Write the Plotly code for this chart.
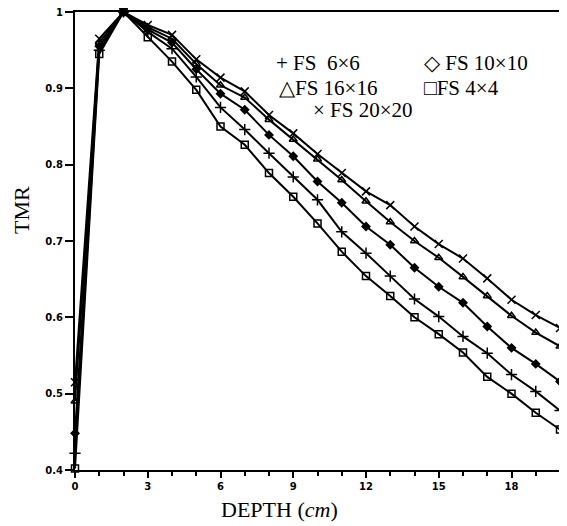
import plotly.graph_objects as go

depth = list(range(0, 21))

tmr_fs20 = [0.515, 0.965, 1.0, 0.983, 0.970, 0.938, 0.914, 0.896, 0.865, 0.841, 0.814,
            0.789, 0.765, 0.747, 0.719, 0.696, 0.677, 0.651, 0.623, 0.603, 0.586]
tmr_fs16 = [0.490, 0.960, 1.0, 0.980, 0.965, 0.932, 0.904, 0.888, 0.859, 0.833, 0.807,
            0.780, 0.752, 0.725, 0.700, 0.678, 0.653, 0.628, 0.602, 0.580, 0.562]
tmr_fs10 = [0.448, 0.955, 1.0, 0.977, 0.960, 0.925, 0.893, 0.872, 0.839, 0.811, 0.778,
            0.750, 0.719, 0.695, 0.665, 0.640, 0.619, 0.588, 0.560, 0.539, 0.516]
tmr_fs6 = [0.422, 0.950, 1.0, 0.974, 0.952, 0.915, 0.875, 0.846, 0.815, 0.784, 0.754,
           0.712, 0.684, 0.654, 0.624, 0.601, 0.575, 0.553, 0.525, 0.503, 0.478]
tmr_fs4 = [0.402, 0.945, 1.0, 0.967, 0.935, 0.898, 0.850, 0.826, 0.789, 0.758, 0.723,
           0.686, 0.654, 0.628, 0.600, 0.578, 0.554, 0.522, 0.500, 0.475, 0.453]

x_tickvals = [0, 3, 6, 9, 12, 15, 18]
y_tickvals = [0.4, 0.5, 0.6, 0.7, 0.8, 0.9, 1.0]
y_ticktext = ["0.4", "0.5", "0.6", "0.7", "0.8", "0.9", "1"]

series = [
    ("FS 20×20", tmr_fs20, "x-thin-open", 8),
    ("FS 16×16", tmr_fs16, "triangle-up-open", 7),
    ("FS 10×10", tmr_fs10, "diamond", 6),
    ("FS 6×6", tmr_fs6, "cross-thin-open", 8),
    ("FS 4×4", tmr_fs4, "square-open", 7),
]

fig = go.Figure()
for name, vals, sym, sz in series:
    fig.add_trace(go.Scatter(
        x=depth, y=vals, mode="lines+markers", name=name,
        line=dict(color="black", width=2),
        marker=dict(symbol=sym, size=sz, color="black",
                    line=dict(color="black", width=1.5)),
        cliponaxis=False, showlegend=False,
    ))

tick_font = dict(family="DejaVu Sans", size=10, color="black", weight=700)

fig.update_xaxes(
    range=[0, 20], tickvals=x_tickvals, ticks="outside", ticklen=6, tickwidth=2,
    tickcolor="black", minor=dict(dtick=1, tick0=0, ticks="outside", ticklen=4,
                                  tickwidth=2, tickcolor="black"),
    showline=True, linewidth=2, linecolor="black", mirror=True,
    showgrid=False, zeroline=False, tickfont=tick_font, automargin=False,
    ticklabeloverflow="allow",
)
fig.update_yaxes(
    range=[0.4, 1.0], tickvals=y_tickvals, ticktext=y_ticktext, ticks="outside",
    ticklen=8, tickwidth=2, tickcolor="black",
    showline=True, linewidth=2, linecolor="black", mirror=True,
    showgrid=False, zeroline=False, tickfont=tick_font, automargin=False,
    ticklabeloverflow="allow",
)

# page has an 8px body margin; plot area targeted at x 75..560, y 12..470
OFF = 8
PL, PR, PT, PB = 75, 560, 12, 470
PW, PH = PR - PL, PB - PT
W, H = 559, 518

serif = dict(family="Liberation Serif", size=21, color="black")
legend_items = [
    ("+ FS  6×6", 274, 63),
    ("◇ FS 10×10", 422, 63),
    ("△FS 16×16", 277, 88),
    ("□FS 4×4", 422, 88),
    ("× FS 20×20", 311, 110),
]
annotations = []
for txt, px, py in legend_items:
    annotations.append(dict(
        text=txt, x=(px - PL) / PW, y=1 - (py - PT) / PH, xref="paper", yref="paper",
        xanchor="left", yanchor="middle", showarrow=False, font=serif,
    ))
annotations.append(dict(
    text="DEPTH (<i>cm</i>)", x=(279 - PL) / PW, y=-(509 - PB) / PH,
    xref="paper", yref="paper", xanchor="center", yanchor="middle",
    showarrow=False, font=dict(family="Liberation Serif", size=22, color="black"),
))
annotations.append(dict(
    text="TMR", x=-(PL - 21) / PW, y=1 - (210 - PT) / PH,
    xref="paper", yref="paper", xanchor="center", yanchor="middle",
    showarrow=False, textangle=-90,
    font=dict(family="Liberation Serif", size=22, color="black"),
))

fig.update_layout(
    width=W, height=H,
    margin=dict(l=PL - OFF, r=OFF + W - PR, t=PT - OFF, b=OFF + H - PB, autoexpand=False),
    paper_bgcolor="white", plot_bgcolor="white",
    annotations=annotations,
)

fig.write_html("out.html")
